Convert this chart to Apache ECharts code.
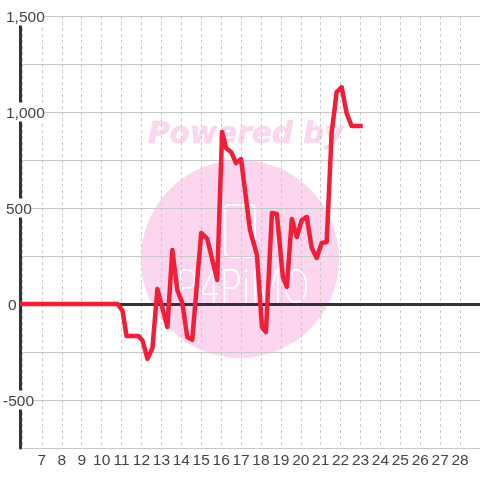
<!DOCTYPE html>
<html>
<head>
<meta charset="utf-8">
<style>html,body{margin:0;padding:0;background:#fff}#main{width:480px;height:480px}</style>
<script src="https://cdn.jsdelivr.net/npm/echarts@6/dist/echarts.min.js"></script>
</head>
<body>
<div id="main"></div>
<script>
var xTicks = [7, 8, 9, 10, 11, 12, 13, 14, 15, 16, 17, 18, 19, 20, 21, 22, 23, 24, 25, 26, 27, 28];
var xValues = [6, 10.8, 11.05, 11.25, 11.85, 12.05, 12.3, 12.55, 12.8, 13.3, 13.55, 13.8, 14.05, 14.3, 14.55, 15, 15.3, 15.8, 16.05, 16.25, 16.5, 16.75, 17, 17.45, 17.8, 18.05, 18.25, 18.55, 18.8, 19.1, 19.3, 19.55, 19.8, 20.05, 20.3, 20.55, 20.8, 21.05, 21.3, 21.55, 21.8, 22.05, 22.3, 22.55, 23];
var yValues = [0, 0, -36, -167, -167, -190, -286, -229, 78, -120, 281, 73, 5, -172, -187, 370, 340, 125, 896, 812, 792, 734, 755, 385, 255, -120, -146, 474, 469, 141, 89, 443, 349, 437, 453, 292, 240, 318, 323, 890, 1104, 1130, 995, 927, 927];

var myChart = echarts.init(document.getElementById('main'));

var points = xValues.map(function (x, i) { return [x, yValues[i]]; });
var font = '"Liberation Sans", Arial, sans-serif';

option = {
    animation: false,
    backgroundColor: '#fff',
    grid: {left: 20, right: 0, top: 16, bottom: 32},
    // watermark sits behind the axes
    graphic: [
        {type: 'circle', z: -1, shape: {cx: 240, cy: 259, r: 99}, style: {fill: '#fbd6ee'}},
        {type: 'text', z: -1, x: 148, y: 120, style: {text: 'Powered by', fill: '#fbd6ee', stroke: '#fbd6ee', lineWidth: 0.5, font: 'italic bold 29.5px "DejaVu Sans"'}},
        {type: 'rect', z: -1, shape: {x: 225, y: 205, width: 30, height: 52, r: 4}, style: {fill: 'none', stroke: '#fff', lineWidth: 2}},
        {type: 'text', z: -1, x: 176, y: 266, scaleX: 0.78, style: {text: 'P4PiMO', fill: '#fff', font: '200 46px Inter'}}
    ],
    xAxis: [{
        type: 'value',
        min: 6,
        max: 29,
        interval: 1,
        axisLine: {show: false, onZero: false},
        axisTick: {show: false},
        axisLabel: {
            color: '#444',
            fontSize: 15.5,
            fontFamily: font,
            margin: 5,
            showMinLabel: false,
            showMaxLabel: false,
            formatter: function (v) { return xTicks.indexOf(v) >= 0 ? String(v) : ''; }
        },
        splitLine: {show: true, lineStyle: {color: '#c8c8c8', type: [3, 3], width: 1}}
    }, {
        type: 'value',
        min: 6,
        max: 29,
        axisLine: {show: true, onZero: true, lineStyle: {color: '#333', width: 3}},
        axisTick: {show: false},
        axisLabel: {show: false},
        splitLine: {show: false}
    }],
    yAxis: {
        type: 'value',
        min: -750,
        max: 1500,
        interval: 250,
        offset: 2,
        axisLine: {show: true, onZero: false, lineStyle: {color: '#333', width: 3}},
        axisTick: {show: false},
        axisLabel: {
            inside: true,
            margin: -17,
            color: '#444',
            fontSize: 15.5,
            fontFamily: font,
            backgroundColor: '#fff',
            showMinLabel: true,
            formatter: function (v) {
                if (v % 500 !== 0) return '';
                var s = v.toLocaleString('en-US');
                if (v < 0) return '{a|' + s + '}';
                return v === 0 ? '{c|' + s + '}' : '{b|' + s + '}';
            },
            rich: {
                a: {color: '#444', fontSize: 15.5, fontFamily: font, padding: [3, 0, 0, 0]},
                b: {color: '#444', fontSize: 15.5, fontFamily: font, padding: [3, 0, 0, 3]},
                c: {color: '#444', fontSize: 15.5, fontFamily: font, padding: [3, 0, 0, 5]}
            }
        },
        splitLine: {show: true, lineStyle: {color: '#c8c8c8', width: 1}}
    },
    series: [{
        type: 'line',
        data: points,
        showSymbol: false,
        clip: false,
        z: 5,
        lineStyle: {color: '#f01f37', width: 4.5, join: 'round', cap: 'square'}
    }]
};

myChart.setOption(option);
</script>
</body>
</html>
